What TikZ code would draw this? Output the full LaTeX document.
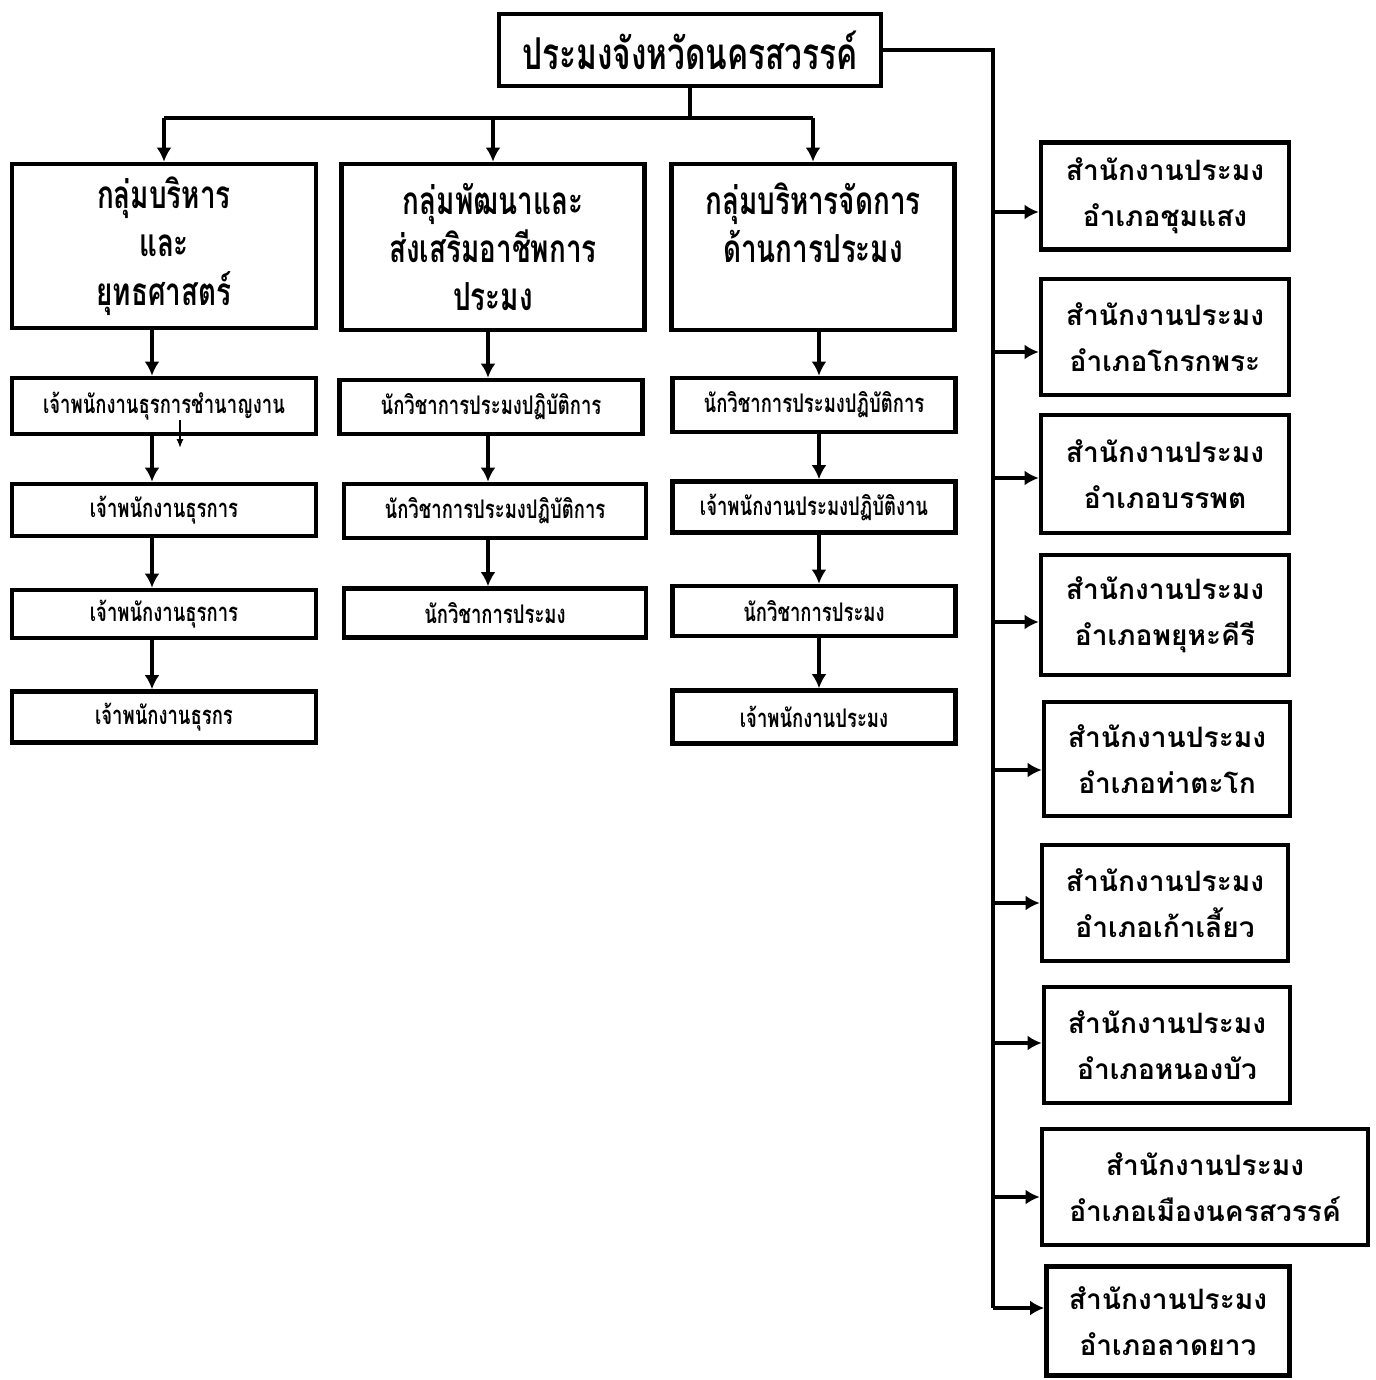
\documentclass[tikz,border=0pt]{standalone}
\usepackage{fontspec}
\newfontfamily\thai[Script=Thai]{Loma}
\newfontfamily\thaicn[Script=Thai,FakeStretch=0.72]{Loma}
\usetikzlibrary{arrows.meta}
\tikzset{>={Latex[length=8pt,width=8.5pt]}}
\tikzset{
	box/.style 2 args={draw, line width=2.6pt, minimum width=#1*0.02cm, minimum height=#2*0.02cm, inner sep=0pt, align=center},
	ln/.style={line width=2.3pt},
	head/.style={font=\thaicn\bfseries\fontsize{25}{30}\selectfont},
	grp/.style={font=\thaicn\bfseries\fontsize{22}{27.5}\selectfont},
	job/.style={font=\thaicn\bfseries\fontsize{14.6}{18}\selectfont},
	ofc/.style={font=\thai\bfseries\fontsize{16}{26}\selectfont},
}

\begin{document}
\begin{tikzpicture}[x=0.02cm, y=-0.02cm]
    \useasboundingbox (0,0) rectangle (1376,1380);
    \node[box={382}{72}, head] (top) at (690,50) {ประมงจังหวัดนครสวรรค์};
    \node[box={304}{164}, grp] (g1) at (164,246) {กลุ่มบริหาร\\และ\\ยุทธศาสตร์};
    \node[box={303}{166}, grp] (g2) at (493,247) {กลุ่มพัฒนาและ\\ส่งเสริมอาชีพการ\\ประมง};
    \node[box={283}{166}, grp] (g3) at (813,247) {กลุ่มบริหารจัดการ\\ด้านการประมง\\\mbox{}};
    % column 1
    \node[box={304}{56}, job] (c1a) at (164,406) {เจ้าพนักงานธุรการชำนาญงาน};
    \node[box={304}{52}, job] (c1b) at (164,510) {เจ้าพนักงานธุรการ};
    \node[box={304}{48}, job] (c1c) at (164,614) {เจ้าพนักงานธุรการ};
    \node[box={304}{51}, job] (c1d) at (164,717) {เจ้าพนักงานธุรกร};
    % column 2
    \node[box={303}{54}, job] (c2a) at (491,407) {นักวิชาการประมงปฏิบัติการ};
    \node[box={302}{54}, job] (c2b) at (495,511) {นักวิชาการประมงปฏิบัติการ};
    \node[box={302}{49}, job] (c2c) at (495,613) {นักวิชาการประมง};
    % column 3
    \node[box={283}{54}, job] (c3a) at (814,405) {นักวิชาการประมงปฏิบัติการ};
    \node[box={283}{51}, job] (c3b) at (814,507) {เจ้าพนักงานประมงปฏิบัติงาน};
    \node[box={283}{50}, job] (c3c) at (814,611) {นักวิชาการประมง};
    \node[box={283}{53}, job] (c3d) at (814,717) {เจ้าพนักงานประมง};
    % offices
    \node[box={248}{107}, ofc] (r1) at (1165,196) {สำนักงานประมง\\อำเภอชุมแสง};
    \node[box={248}{116}, ofc] (r2) at (1165,337) {สำนักงานประมง\\อำเภอโกรกพระ};
    \node[box={248}{118}, ofc] (r3) at (1165,474) {สำนักงานประมง\\อำเภอบรรพต};
    \node[box={248}{120}, ofc] (r4) at (1165,615) {สำนักงานประมง\\อำเภอพยุหะคีรี};
    \node[box={246}{114}, ofc] (r5) at (1167,759) {สำนักงานประมง\\อำเภอท่าตะโก};
    \node[box={246}{116}, ofc] (r6) at (1165,903) {สำนักงานประมง\\อำเภอเก้าเลี้ยว};
    \node[box={246}{116}, ofc] (r7) at (1167,1045) {สำนักงานประมง\\อำเภอหนองบัว};
    \node[box={326}{116}, ofc] (r8) at (1205,1187) {สำนักงานประมง\\อำเภอเมืองนครสวรรค์};
    \node[box={243}{109}, ofc] (r9) at (1168,1321) {สำนักงานประมง\\อำเภอลาดยาว};
    \coordinate (bus) at (690,118);
    \coordinate (re) at (993,1308);
    \coordinate (a1) at (152,0);
    \coordinate (a2) at (488,0);
    \coordinate (a3) at (819,0);
    \coordinate (s) at (180,420);
    \draw[ln] (top) -- (bus);
    \draw[ln] (g1.north|-bus) -- (g3.north|-bus);
    \foreach \g in {g1,g2,g3}
        \draw[ln, ->] (\g.north|-bus) -- (\g.north);
    \draw[ln] (top.east) -| (re);
    \foreach \r/\y in {r1/212, r2/352, r3/478, r4/622, r5/770, r6/903, r7/1043, r8/1197, r9/1308}
        \draw[ln, ->] (re|-0,\y) -- (\r.west|-0,\y);
    \foreach \a/\b in {g1/c1a, c1a/c1b, c1b/c1c, c1c/c1d}
        \draw[ln, ->] (\a.south-|a1) -- (\b.north-|a1);
    \foreach \a/\b in {g2/c2a, c2a/c2b, c2b/c2c}
        \draw[ln, ->] (\a.south-|a2) -- (\b.north-|a2);
    \foreach \a/\b in {g3/c3a, c3a/c3b, c3b/c3c, c3c/c3d}
        \draw[ln, ->] (\a.south-|a3) -- (\b.north-|a3);
    \draw[line width=1pt, -{Latex[length=5pt,width=4pt]}] (s) -- ++(0,28);
\end{tikzpicture}
\end{document}
